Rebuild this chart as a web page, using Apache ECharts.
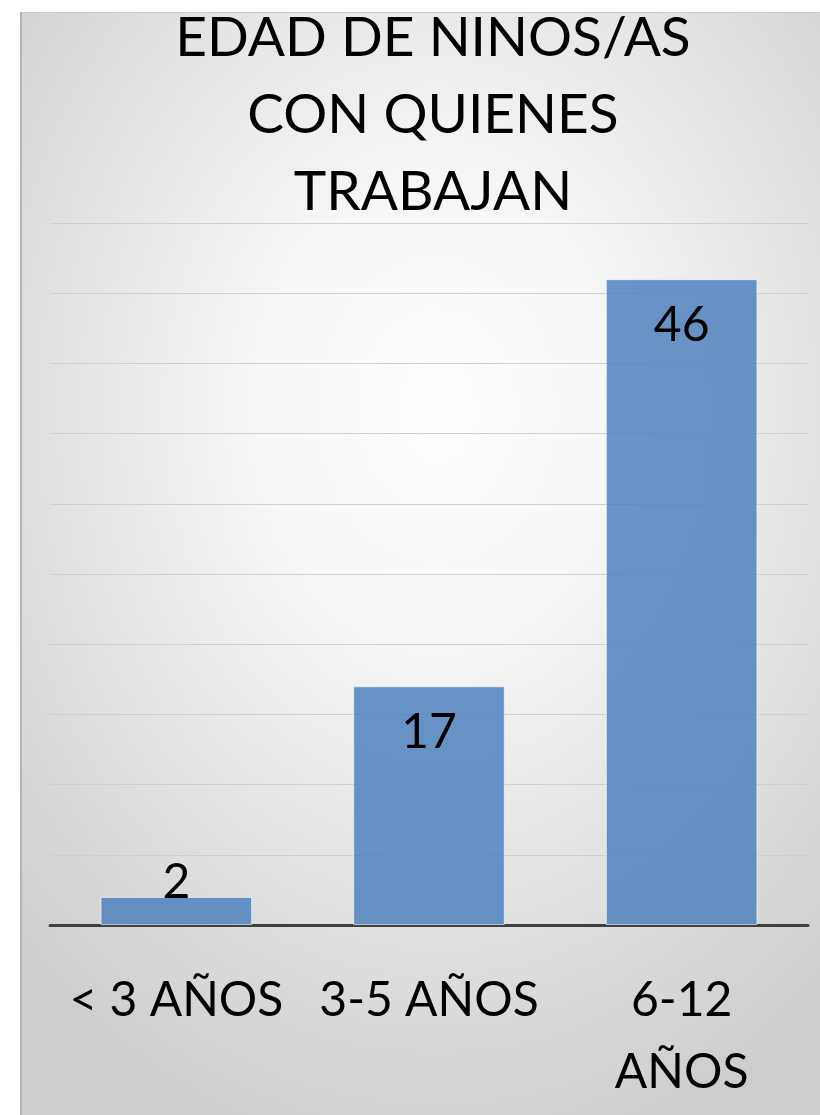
<!DOCTYPE html>
<html>
<head>
<meta charset="utf-8">
<script src="https://cdn.jsdelivr.net/npm/echarts@6/dist/echarts.min.js"></script>
<style>
  html, body { margin: 0; padding: 0; background: #fff; }
  #chart {
    position: absolute;
    left: 20px;
    top: 12px;
    width: 800px;
    height: 1103px;
    border-left: 2px solid #b4b4b4;
    border-top: 1px solid #c8c8c8;
    box-sizing: border-box;
    background: radial-gradient(ellipse 75% 70% at 52% 36%, #ffffff 0%, #f6f6f6 30%, #e2e2e2 65%, #cdcdcd 100%);
  }
</style>
</head>
<body>
<div id="chart"></div>
<script>
// chart data
const titleLines = ["EDAD DE NINOS/AS", "CON QUIENES", "TRABAJAN"];
const categories = ["< 3 AÑOS", "3-5 AÑOS", "6-12\nAÑOS"];
const values = [2, 17, 46];

const chart = echarts.init(document.getElementById("chart"));
const font = "Lato";

const seriesData = values.map((v) => {
  // small bar: Excel pushes the label above the bar
  if (v < 5) {
    return { value: v, label: { position: "top", distance: -10 } };
  }
  return v;
});

chart.setOption({
  backgroundColor: "transparent",
  title: {
    text: titleLines.join("\n"),
    left: 406,
    top: -18,
    textAlign: "center",
    textStyle: {
      fontFamily: font,
      fontWeight: "normal",
      fontSize: 55,
      lineHeight: 77,
      color: "#000",
    },
  },
  grid: {
    left: 28,
    right: 12,
    top: 210,
    bottom: 190,
  },
  xAxis: {
    type: "category",
    data: categories,
    axisLine: { lineStyle: { color: "#404040", width: 3 } },
    axisTick: { show: false },
    axisLabel: {
      fontFamily: font,
      fontSize: 48,
      lineHeight: 72,
      color: "#000",
      margin: 40,
      interval: 0,
    },
  },
  yAxis: {
    type: "value",
    min: 0,
    max: 50,
    interval: 5,
    axisLabel: { show: false },
    axisLine: { show: false },
    axisTick: { show: false },
    splitLine: { lineStyle: { color: "#cfcfcf", width: 1 } },
  },
  series: [
    {
      type: "bar",
      data: seriesData,
      barCategoryGap: "40%",
      itemStyle: {
        color: "rgba(79,129,189,0.85)",
        borderColor: "rgba(255,255,255,0.6)",
        borderWidth: 1,
      },
      label: {
        show: true,
        position: "insideTop",
        distance: 22,
        fontFamily: font,
        fontSize: 48,
        lineHeight: 48,
        color: "#000",
      },
    },
  ],
});
</script>
</body>
</html>
